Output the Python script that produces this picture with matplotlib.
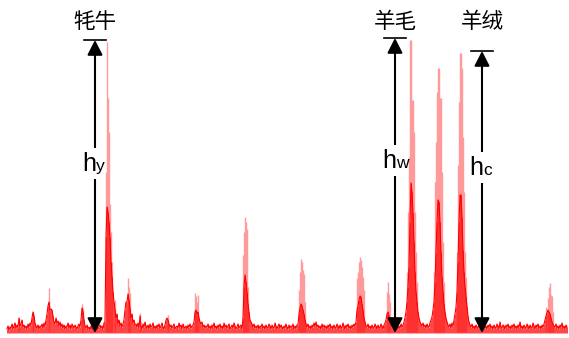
import numpy as np
import matplotlib
matplotlib.use("Agg")
import matplotlib.pyplot as plt

# ---------------- data ----------------
channel_start = 7  # first channel of the trace
# solid trace, one value per channel (height above the baseline)
signal = [
    3, 6, 2, 5, 4, 8, 3, 6, 9, 4,
    7, 5, 14, 6, 8, 12, 5, 7, 4, 6,
    3, 8, 5, 9, 7, 14, 20, 16, 9, 6,
    4, 7, 3, 6, 5, 8, 4, 9, 6, 12,
    18, 26, 30, 22, 23, 22, 16, 10, 8, 14,
    9, 11, 6, 10, 5, 8, 4, 7, 3, 6,
    5, 9, 4, 7, 3, 8, 6, 4, 7, 5,
    3, 6, 8, 5, 12, 24, 20, 12, 6, 4,
    7, 3, 5, 2, 6, 4, 3, 5, 2, 4,
    6, 3, 5, 7, 4, 6, 3, 9, 10, 95,
    125, 120, 110, 95, 70, 55, 40, 30, 22, 14,
    18, 8, 12, 6, 9, 5, 8, 12, 22, 30,
    30, 38, 32, 24, 14, 18, 9, 12, 7, 8,
    5, 9, 4, 16, 6, 3, 8, 5, 10, 6,
    4, 7, 3, 8, 5, 6, 9, 4, 6, 3,
    7, 5, 8, 4, 6, 9, 5, 3, 7, 12,
    14, 12, 8, 5, 7, 4, 6, 8, 3, 5,
    6, 4, 9, 5, 7, 3, 8, 5, 4, 6,
    3, 7, 5, 8, 4, 6, 7, 10, 20, 22,
    18, 20, 14, 10, 8, 10, 5, 7, 4, 6,
    5, 8, 4, 6, 3, 7, 5, 9, 4, 6,
    3, 7, 5, 8, 4, 6, 3, 9, 5, 7,
    4, 6, 8, 3, 5, 7, 4, 9, 6, 3,
    5, 8, 4, 6, 7, 3, 14, 45, 57, 50,
    40, 28, 20, 12, 10, 8, 5, 8, 4, 6,
    4, 7, 3, 6, 5, 8, 4, 6, 3, 7,
    5, 4, 8, 6, 3, 7, 5, 4, 9, 6,
    3, 6, 8, 4, 7, 5, 3, 6, 4, 8,
    5, 3, 7, 4, 6, 5, 8, 3, 6, 4,
    7, 8, 18, 24, 28, 26, 22, 18, 12, 8,
    5, 8, 4, 6, 3, 7, 5, 9, 6, 10,
    5, 7, 4, 6, 3, 8, 5, 7, 4, 6,
    3, 7, 5, 8, 4, 6, 3, 7, 5, 4,
    8, 6, 3, 7, 5, 4, 9, 6, 3, 7,
    5, 8, 4, 6, 3, 7, 5, 8, 6, 10,
    22, 26, 32, 36, 35, 28, 22, 14, 10, 6,
    5, 8, 4, 6, 3, 7, 5, 4, 8, 6,
    3, 7, 5, 4, 8, 6, 3, 7, 9, 12,
    18, 20, 16, 12, 10, 6, 7, 3, 5, 8,
    5, 3, 6, 4, 8, 5, 7, 10, 14, 20,
    30, 45, 65, 110, 149, 140, 119, 90, 60, 40,
    30, 20, 14, 10, 8, 6, 9, 5, 7, 4,
    8, 6, 5, 9, 12, 15, 22, 30, 50, 79,
    110, 132, 130, 110, 80, 55, 40, 28, 20, 14,
    10, 7, 5, 8, 4, 9, 6, 12, 18, 25,
    40, 70, 110, 137, 137, 115, 82, 60, 45, 35,
    25, 16, 10, 7, 5, 8, 4, 6, 3, 7,
    5, 4, 8, 6, 3, 7, 5, 9, 4, 6,
    3, 7, 5, 8, 4, 6, 3, 7, 5, 4,
    8, 6, 3, 10, 5, 4, 7, 6, 3, 7,
    5, 8, 4, 6, 3, 7, 5, 8, 4, 6,
    3, 7, 5, 10, 4, 6, 3, 7, 5, 4,
    8, 6, 3, 7, 5, 4, 9, 6, 3, 7,
    5, 8, 4, 6, 3, 7, 5, 8, 12, 16,
    19, 22, 20, 18, 14, 10, 8, 6, 5, 8,
    4, 6, 3, 7, 5, 9, 4, 6, 3, 7,
    5,
]

# faint spike tips (channel, height)
tip_x = [19, 33, 49, 82, 83,
         106, 107, 108, 109, 110, 111, 112, 115,
         128, 129, 130, 140, 168,
         195, 196, 197, 198,
         243, 244, 245, 246, 247, 248,
         299, 300, 301, 302, 303, 304, 305,
         357, 358, 359, 360, 361, 362, 363, 364,
         387, 388, 389, 390,
         407, 408, 409, 410, 411, 412, 413, 414, 415, 416, 417,
         434, 435, 436, 437, 438, 439, 440, 441, 442, 443, 444,
         457, 458, 459, 460, 461, 462, 463, 464, 465, 466,
         546, 548, 549, 550, 551, 552, 553]
tip_h = [14, 20, 44, 28, 24,
         160, 290, 234, 200, 128, 100, 70, 32,
         54, 45, 39, 19, 17,
         39, 36, 30, 37,
         77, 100, 115, 110, 103, 45,
         42, 60, 73, 70, 62, 58, 30,
         54, 60, 70, 75, 72, 65, 55, 42,
         40, 50, 38, 30,
         60, 120, 175, 292, 292, 232, 232, 200, 120, 80, 50,
         60, 150, 190, 240, 264, 264, 234, 234, 160, 90, 50,
         80, 167, 230, 279, 279, 264, 195, 140, 80, 55,
         25, 34, 45, 49, 37, 36, 20]

# annotated peaks
peak_names = ["牦牛", "羊毛", "羊绒"]
peak_subscripts = ["y", "w", "c"]
peak_channels = [107, 410, 460]
arrow_channels = [95, 395, 482]

# ---------------- figure ----------------
plt.rcParams["font.family"] = ["Noto Sans CJK SC", "DejaVu Sans"]

fig = plt.figure(figsize=(5.69, 3.38), dpi=100)
ax = fig.add_axes([0, 0, 1, 1])
ax.set_xlim(0, 569)
ax.set_ylim(-6, 332)
ax.axis("off")

x = np.arange(channel_start, channel_start + len(signal))
sig = np.array(signal, dtype=float)

ax.vlines(tip_x, 0, tip_h, colors="#ff9a9a", lw=1.0, zorder=1)
ax.vlines(x, -1, sig, colors="#ff1010", lw=0.55, zorder=2)
ax.plot(x, sig, color="#ff0000", lw=0.8, zorder=3)

tx = np.array(tip_x)
th = np.array(tip_h)
baselines = [161, 164, 157]
latin = ["Liberation Sans", "DejaVu Sans"]
for name, sub, pc, ac, bl in zip(peak_names, peak_subscripts, peak_channels,
                                 arrow_channels, baselines):
    near = np.abs(tx - pc) <= 2
    top = th[near].max() + 2
    ax.annotate("", xy=(ac, top), xytext=(ac, -1),
                arrowprops=dict(arrowstyle="<|-|>,head_length=0.45,head_width=0.23",
                                mutation_scale=20, color="black", lw=1.5,
                                shrinkA=0, shrinkB=0), zorder=5)
    ax.plot([ac - 11, ac + 11], [top, top], color="black", lw=1.2, zorder=5)
    # white gap behind the label
    ax.fill_between([ac - 4, ac + 4], bl - 8, bl + 23, color="white",
                    lw=0, zorder=5.5)
    ax.text(ac + 1, bl, "h", ha="right", va="baseline", fontsize=18,
            family=latin, zorder=6)
    ax.text(ac + 1, bl, sub, ha="left", va="baseline", fontsize=12.5,
            family=latin, zorder=6)
    ax.text(ac, 310, name, ha="center", va="center", fontsize=15.5, zorder=6)

fig.savefig("out.png", dpi=100)
